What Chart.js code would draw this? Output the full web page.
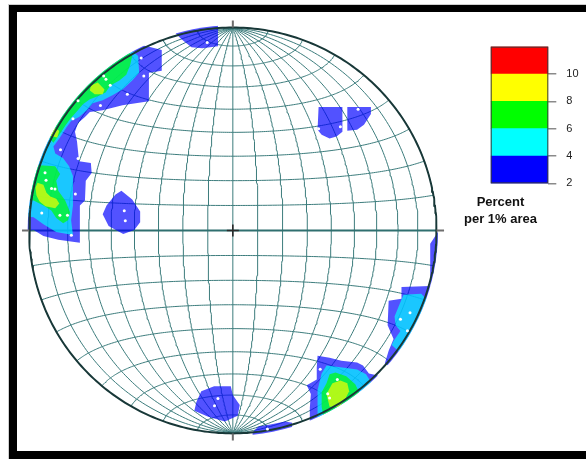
<!DOCTYPE html>
<html>
<head>
<meta charset="utf-8">
<script src="https://cdn.jsdelivr.net/npm/chart.js@4.4.1/dist/chart.umd.min.js"></script>
<style>
  body { margin: 0; background: #fff; overflow: hidden; width: 586px; height: 459px; position: relative; }
  .frame { position: absolute; left: 9px; top: 5px; width: 640px; height: 439px;
           border-style: solid; border-color: #000; border-width: 7px 0 12px 8px;
           outline: 1px solid #cfcfcf; background: #fff; }
  #net { position: absolute; left: 0; top: 0; }
  #bar { position: absolute; left: 470px; top: 30px; }
  .caption { position: absolute; left: 450px; top: 193px; width: 101px; text-align: center;
             font: bold 13px "Liberation Sans", Arial, sans-serif; line-height: 17px; color: #111; }
</style>
</head>
<body>
<div class="frame"></div>
<canvas id="net" width="586" height="459"></canvas>
<canvas id="bar" width="116" height="170"></canvas>
<div class="caption">Percent<br>per 1% area</div>
<script>
// Schmidt net, 10 degree spacing
const netLongitudes = [-80, -70, -60, -50, -40, -30, -20, -10, 0, 10, 20, 30, 40, 50, 60, 70, 80];
const netLatitudes = [-80, -70, -60, -50, -40, -30, -20, -10, 10, 20, 30, 40, 50, 60, 70, 80];

// contour levels (percent per 1% area) and colour bar
const levels = [2, 4, 6, 8, 10, 12];
const levelTicks = [2, 4, 6, 8, 10];
const bandColors = ['#0000ff', '#00ffff', '#00ff00', '#ffff00', '#ff0000'];

// contour areas in net coordinates (primitive radius = 1)
const blueAreas = [
  [[-0.281,0.971],[-0.203,1.039],[-0.073,1.039],[-0.073,0.908],[-0.150,0.898],[-0.203,0.903],[-0.252,0.942]],
  [[0.421,0.608],[0.538,0.608],[0.538,0.487],[0.509,0.463],[0.475,0.453],[0.436,0.472],[0.416,0.496]],
  [[0.562,0.608],[0.678,0.608],[0.678,0.574],[0.644,0.521],[0.610,0.496],[0.562,0.492]],
  [[-0.547,0.196],[-0.494,0.153],[-0.455,0.094],[-0.455,0.041],[-0.484,0.002],[-0.538,-0.017],[-0.610,0.022],[-0.639,0.080],[-0.620,0.123],[-0.576,0.177]],
  [[-0.155,-0.792],[-0.092,-0.768],[-0.010,-0.768],[0.000,-0.811],[0.034,-0.860],[0.024,-0.913],[-0.039,-0.942],[-0.121,-0.918],[-0.189,-0.889],[-0.179,-0.845]],
  [[0.097,-0.995],[0.126,-0.966],[0.184,-0.956],[0.257,-0.942],[0.291,-0.947],[0.291,-1.015],[0.097,-1.015]],
  [[-0.504,0.923],[-0.421,0.908],[-0.349,0.889],[-0.349,0.787],[-0.412,0.777],[-0.412,0.637],[-0.542,0.617],[-0.639,0.593],[-0.702,0.584],[-0.726,0.559],[-0.760,0.530],[-0.775,0.487],[-0.765,0.438],[-0.755,0.341],[-0.697,0.332],[-0.693,0.283],[-0.722,0.245],[-0.726,0.148],[-0.751,0.123],[-0.751,0.002],[-0.751,-0.061],[-0.857,-0.046],[-0.930,-0.027],[-0.978,0.002],[-1.051,-0.007],[-1.051,0.438],[-0.833,0.777]],
  [[0.416,-0.617],[0.475,-0.627],[0.533,-0.642],[0.610,-0.651],[0.639,-0.666],[0.668,-0.705],[0.707,-0.714],[0.814,-0.748],[0.426,-1.015],[0.378,-0.942],[0.378,-0.874],[0.383,-0.806],[0.363,-0.763],[0.412,-0.734],[0.412,-0.676]],
  [[1.046,-0.007],[1.007,-0.007],[0.969,-0.065],[0.969,-0.274],[0.828,-0.278],[0.828,-0.337],[0.765,-0.346],[0.760,-0.467],[0.789,-0.535],[0.765,-0.593],[0.746,-0.656],[0.814,-0.700],[1.104,-0.337]]
];
const cyanAreas = [
  [[-0.504,0.894],[-0.465,0.860],[-0.460,0.777],[-0.494,0.739],[-0.542,0.695],[-0.591,0.666],[-0.639,0.642],[-0.688,0.627],[-0.717,0.593],[-0.755,0.559],[-0.794,0.540],[-0.818,0.506],[-0.852,0.453],[-0.881,0.414],[-0.872,0.380],[-0.833,0.356],[-0.804,0.317],[-0.785,0.269],[-0.785,0.196],[-0.785,0.123],[-0.794,0.051],[-0.785,-0.022],[-0.867,-0.007],[-0.930,0.031],[-0.978,0.065],[-1.051,0.075],[-1.051,0.438],[-0.833,0.753]],
  [[0.460,-0.666],[0.547,-0.676],[0.610,-0.685],[0.654,-0.709],[0.693,-0.772],[0.416,-0.942],[0.416,-0.869],[0.416,-0.787],[0.436,-0.705]],
  [[0.838,-0.317],[0.925,-0.312],[0.944,-0.332],[1.007,-0.361],[0.838,-0.617],[0.780,-0.564],[0.789,-0.545],[0.823,-0.496],[0.799,-0.467],[0.794,-0.424],[0.814,-0.375]]
];
const greenAreas = [
  [[-0.494,0.860],[-0.504,0.816],[-0.523,0.768],[-0.557,0.739],[-0.601,0.714],[-0.625,0.680],[-0.663,0.661],[-0.702,0.647],[-0.736,0.622],[-0.765,0.588],[-0.794,0.555],[-0.823,0.516],[-0.852,0.472],[-0.881,0.433],[-0.930,0.487],[-0.736,0.777],[-0.542,0.913]],
  [[-0.949,0.322],[-0.872,0.317],[-0.848,0.278],[-0.867,0.245],[-0.857,0.196],[-0.823,0.148],[-0.799,0.090],[-0.809,0.051],[-0.833,0.036],[-0.867,0.061],[-0.891,0.099],[-0.930,0.123],[-0.978,0.148],[-1.051,0.148],[-1.051,0.322]],
  [[0.475,-0.709],[0.504,-0.700],[0.557,-0.719],[0.601,-0.758],[0.620,-0.797],[0.644,-0.845],[0.450,-0.942],[0.436,-0.869],[0.436,-0.797],[0.460,-0.753]]
];
const yellowAreas = [
  [[-0.697,0.714],[-0.663,0.729],[-0.630,0.695],[-0.639,0.671],[-0.678,0.671],[-0.702,0.690]],
  [[-0.877,0.506],[-0.852,0.492],[-0.862,0.458],[-0.901,0.467]],
  [[-0.959,0.235],[-0.930,0.225],[-0.915,0.186],[-0.896,0.167],[-0.867,0.157],[-0.852,0.133],[-0.872,0.109],[-0.920,0.119],[-0.949,0.143],[-0.964,0.172],[-0.969,0.211]],
  [[0.489,-0.753],[0.528,-0.739],[0.562,-0.753],[0.571,-0.792],[0.552,-0.831],[0.523,-0.869],[0.475,-0.869],[0.460,-0.806]]
];

// plotted poles
const poles = [
  [-0.126,0.927],
  [0.421,0.501],[0.528,0.511],[0.615,0.598],
  [-0.533,0.097],[-0.528,0.048],
  [-0.073,-0.828],[-0.090,-0.864],[0.170,-0.978],
  [0.870,-0.405],[0.823,-0.438],[0.857,-0.494],
  [0.429,-0.684],[0.513,-0.734],[0.466,-0.805],[0.475,-0.826],
  [-0.450,0.850],[-0.437,0.761],[-0.634,0.761],[-0.623,0.745],[-0.602,0.716],[-0.518,0.672],
  [-0.650,0.616],[-0.760,0.640],[-0.785,0.551],[-0.846,0.398],[-0.760,0.355],[-0.922,0.285],
  [-0.917,0.248],[-0.890,0.207],[-0.873,0.204],[-0.773,0.180],[-0.938,0.086],[-0.849,0.075],
  [-0.812,0.075],[-0.793,-0.024]
];

const FONT = '"Liberation Sans", Arial, sans-serif';
const GRID = '#3c7c7c';
const ALPHA = 0.68;

// equal-area (Schmidt) projection, equatorial aspect
function project(lon, lat) {
  const l = lon * Math.PI / 180, p = lat * Math.PI / 180;
  const k = 1 / Math.sqrt(1 + Math.cos(p) * Math.cos(l));
  return { x: k * Math.cos(p) * Math.sin(l), y: k * Math.sin(p) };
}

function netLines() {
  const pts = [];
  netLongitudes.forEach(lon => {
    for (let lat = -90; lat <= 90; lat++) pts.push(project(lon, lat));
    pts.push({ x: null, y: null });
  });
  netLatitudes.forEach(lat => {
    for (let lon = -90; lon <= 90; lon++) pts.push(project(lon, lat));
    pts.push({ x: null, y: null });
  });
  return pts;
}

function primitive() {
  const pts = [];
  for (let lat = -90; lat <= 90; lat++) pts.push(project(90, lat));
  for (let lat = 90; lat >= -90; lat--) pts.push(project(-90, lat));
  return pts;
}

function rgba(hex, a) {
  const n = parseInt(hex.slice(1), 16);
  return `rgba(${n >> 16},${(n >> 8) & 255},${n & 255},${a})`;
}

function areaSets(areas, color) {
  return areas.map(poly => ({
    type: 'line',
    data: poly.concat([poly[0]]).map(p => ({ x: p[0], y: p[1] })),
    backgroundColor: rgba(color, ALPHA),
    borderWidth: 0,
    pointRadius: 0,
    fill: 'shape'
  }));
}

// clip everything to the primitive circle, then add ticks and centre cross
const netFrame = {
  id: 'netFrame',
  beforeDatasetsDraw(chart) {
    const { ctx, scales: { x, y } } = chart;
    const cx = x.getPixelForValue(0), cy = y.getPixelForValue(0);
    const r = x.getPixelForValue(1) - cx;
    ctx.save();
    ctx.beginPath();
    ctx.arc(cx, cy, r + 1.5, 0, Math.PI * 2);
    ctx.clip();
  },
  afterDatasetsDraw(chart) {
    const { ctx, scales: { x, y } } = chart;
    ctx.restore();
    const px = v => x.getPixelForValue(v), py = v => y.getPixelForValue(v);
    ctx.save();
    ctx.strokeStyle = '#6e6e6e';
    ctx.lineWidth = 2;
    ctx.beginPath();
    ctx.moveTo(px(-1.035), py(0)); ctx.lineTo(px(-1), py(0));
    ctx.moveTo(px(1), py(0)); ctx.lineTo(px(1.037), py(0));
    ctx.moveTo(px(0), py(1)); ctx.lineTo(px(0), py(1.035));
    ctx.moveTo(px(0), py(-1)); ctx.lineTo(px(0), py(-1.035));
    ctx.stroke();
    ctx.strokeStyle = '#2a2a2a';
    ctx.lineWidth = 1.6;
    ctx.beginPath();
    ctx.moveTo(px(0) - 6, py(0)); ctx.lineTo(px(0) + 6, py(0));
    ctx.moveTo(px(0), py(0) - 6); ctx.lineTo(px(0), py(0) + 6);
    ctx.stroke();
    ctx.restore();
  }
};

function initNet() {
  const sets = [];
  sets.push({ type: 'line', data: netLines(), borderColor: GRID, borderWidth: 1, pointRadius: 0, fill: false });
  sets.push({ type: 'line', data: [project(-90, 0), project(90, 0)], borderColor: '#2f6f6f', borderWidth: 2.2, pointRadius: 0, fill: false });
  sets.push(...areaSets(blueAreas, bandColors[0]));
  sets.push(...areaSets(cyanAreas, bandColors[1]));
  sets.push(...areaSets(greenAreas, bandColors[2]));
  sets.push(...areaSets(yellowAreas, bandColors[3]));
  sets.push({ type: 'line', data: primitive(), borderColor: '#183838', borderWidth: 2, pointRadius: 0, fill: false });
  sets.push({ type: 'scatter', data: poles.map(p => ({ x: p[0], y: p[1] })), pointRadius: 1.5, backgroundColor: '#ffffff', borderWidth: 0 });
  // first pushed is drawn at the bottom
  sets.forEach((d, i) => { d.order = -i; });

  new Chart(document.getElementById('net'), {
    type: 'scatter',
    data: { datasets: sets },
    options: {
      responsive: false,
      animation: false,
      events: [],
      layout: { padding: 0 },
      plugins: { legend: { display: false }, tooltip: { enabled: false } },
      scales: {
        x: { type: 'linear', display: false, bounds: 'data', min: -232 / 206.5, max: 354 / 206.5 },
        y: { type: 'linear', display: false, bounds: 'data', min: -228.5 / 206.5, max: 230.5 / 206.5 }
      }
    },
    plugins: [netFrame]
  });
}

const barBox = {
  id: 'barBox',
  afterDatasetsDraw(chart) {
    const { ctx, chartArea: a } = chart;
    ctx.save();
    ctx.strokeStyle = '#3a3a3a';
    ctx.lineWidth = 1;
    ctx.strokeRect(a.left + 0.5, a.top + 0.5, a.right - a.left - 1, a.bottom - a.top - 1);
    ctx.restore();
  }
};

function initColorBar() {
  new Chart(document.getElementById('bar'), {
    type: 'bar',
    data: {
      labels: [''],
      datasets: bandColors.map((c, i) => ({
        data: [[levels[i], levels[i + 1]]],
        backgroundColor: c,
        borderWidth: 0,
        grouped: false,
        barPercentage: 1,
        categoryPercentage: 1
      }))
    },
    options: {
      responsive: false,
      animation: false,
      events: [],
      layout: { padding: { left: 20.7, top: 12.7, right: 0, bottom: 14 } },
      plugins: { legend: { display: false }, tooltip: { enabled: false } },
      scales: {
        x: { display: false },
        y: {
          position: 'right',
          min: levels[0],
          max: levels[levels.length - 1],
          afterFit: s => { s.width = 37.7; },
          afterBuildTicks: s => { s.ticks = levels.map(v => ({ value: v })); },
          ticks: {
            padding: 10,
            color: '#222',
            font: { family: FONT, size: 11 },
            callback: v => levelTicks.includes(v) ? String(v) : ''
          },
          grid: {
            drawOnChartArea: false,
            tickLength: 8,
            lineWidth: 1.5,
            color: c => (c.tick && levelTicks.includes(c.tick.value)) ? '#8a8a8a' : 'rgba(0,0,0,0)'
          },
          border: { display: false }
        }
      }
    },
    plugins: [barBox]
  });
}

initNet();
initColorBar();
</script>
</body>
</html>
